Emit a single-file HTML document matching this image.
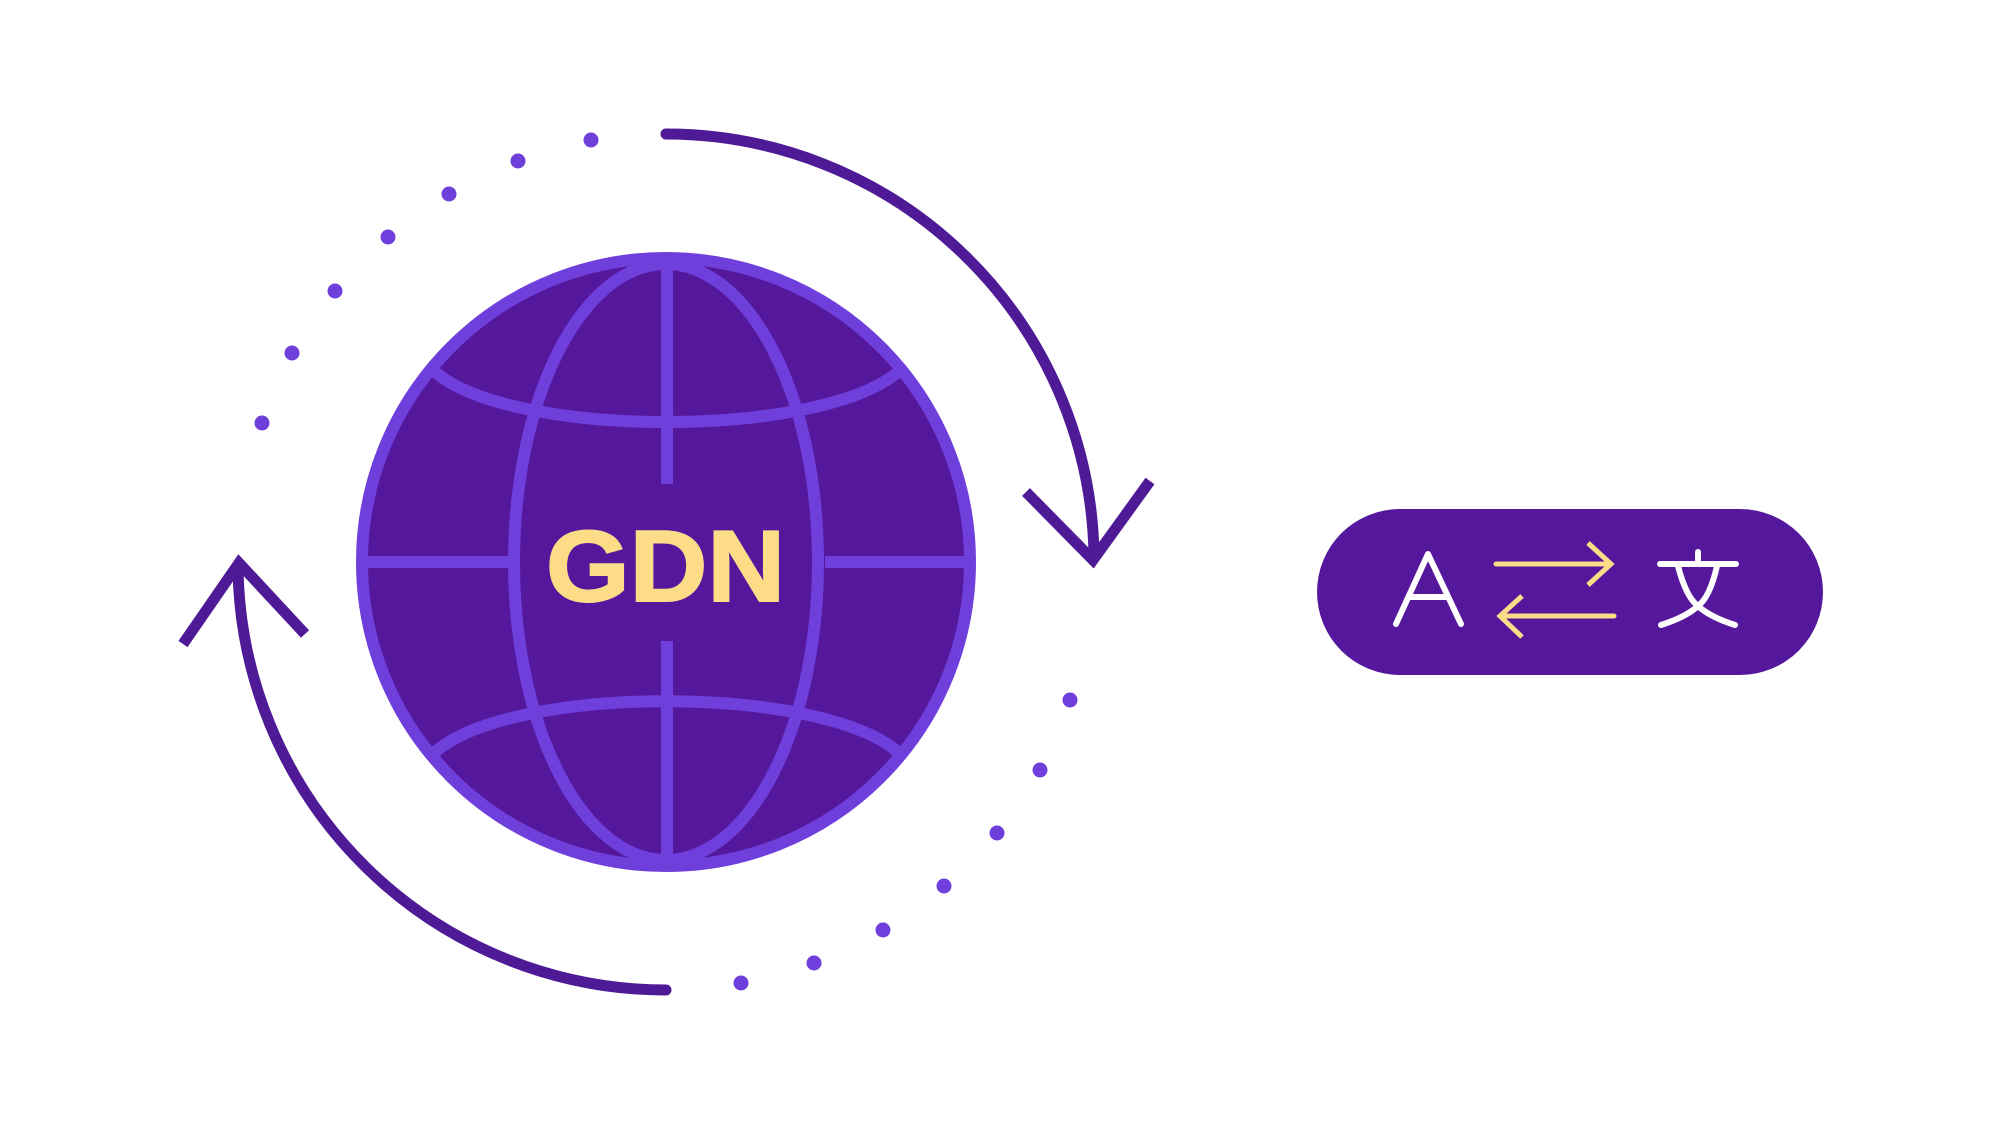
<!DOCTYPE html>
<html><head><meta charset="utf-8"><style>
html,body{margin:0;padding:0;background:#fff;}
svg{display:block;}
</style></head><body>
<svg width="2000" height="1125" viewBox="0 0 2000 1125" xmlns="http://www.w3.org/2000/svg">
<rect width="2000" height="1125" fill="#fff"/>
<path d="M666,134 A428,428 0 0 1 1094,555" fill="none" stroke="#4f1a96" stroke-width="11" stroke-linecap="round"/>
<polyline points="1026,492 1093,560 1150,481" fill="none" stroke="#4f1a96" stroke-width="11"/>
<path d="M666,990 A428,428 0 0 1 238,569" fill="none" stroke="#4f1a96" stroke-width="11" stroke-linecap="round"/>
<polyline points="183,644 239,563 305,634" fill="none" stroke="#4f1a96" stroke-width="11"/>
<g fill="#6e3fdb">
<circle cx="591" cy="140" r="7.5"/><circle cx="518" cy="161" r="7.5"/><circle cx="449" cy="194" r="7.5"/><circle cx="388" cy="237" r="7.5"/><circle cx="335" cy="291" r="7.5"/><circle cx="292" cy="353" r="7.5"/><circle cx="262" cy="423" r="7.5"/>
<circle cx="741" cy="983" r="7.5"/><circle cx="814" cy="963" r="7.5"/><circle cx="883" cy="930" r="7.5"/><circle cx="944" cy="886" r="7.5"/><circle cx="997" cy="833" r="7.5"/><circle cx="1040" cy="770" r="7.5"/><circle cx="1070" cy="700" r="7.5"/>
</g>
<circle cx="666" cy="562" r="304" fill="#55189d" stroke="#6e3fdb" stroke-width="12"/>
<g fill="none" stroke="#6e3fdb" stroke-width="12">
<ellipse cx="666" cy="562" rx="152" ry="298"/>
<path d="M434,371 C510,439 822,439 899,371"/>
<path d="M434,753 C510,684 822,684 899,753"/>
<line x1="362" y1="562" x2="508" y2="562"/>
<line x1="825" y1="562" x2="970" y2="562"/>
<line x1="667" y1="258" x2="667" y2="484"/>
<line x1="667" y1="641" x2="667" y2="866"/>
</g>
<text x="546" y="601" font-family="Liberation Sans, sans-serif" font-weight="bold" font-size="101" fill="#fddc87" stroke="#fddc87" stroke-width="2" textLength="239" lengthAdjust="spacingAndGlyphs">GDN</text>
<rect x="1317" y="509" width="506" height="166" rx="83" fill="#55189d"/>
<g fill="none" stroke="#fff" stroke-width="6" stroke-linecap="round" stroke-linejoin="round">
<polyline points="1396,624 1428,554 1461,624"/>
<line x1="1410" y1="597" x2="1447" y2="597"/>
<line x1="1660" y1="564" x2="1736" y2="564"/>
<line x1="1698" y1="552" x2="1698" y2="564"/>
<path d="M1678,566 Q1686,597 1698,606 Q1686,617 1661,625"/>
<path d="M1717,566 Q1710,597 1698,606 Q1710,617 1735,625"/>
</g>
<g fill="none" stroke="#fddc87" stroke-width="5" stroke-linecap="round">
<line x1="1496" y1="564" x2="1610" y2="564"/>
<polyline points="1588,543 1611,564 1588,585" stroke-linecap="butt"/>
<line x1="1501" y1="616" x2="1614" y2="616"/>
<polyline points="1522,596 1500,616 1522,637" stroke-linecap="butt"/>
</g>
</svg>
</body></html>
